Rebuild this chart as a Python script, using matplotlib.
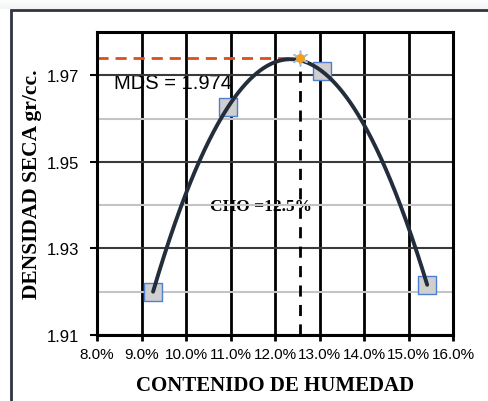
import numpy as np
import matplotlib
matplotlib.use("Agg")
import matplotlib.pyplot as plt
from matplotlib.patches import Rectangle
from matplotlib.ticker import MultipleLocator, FuncFormatter

# data
humedad = [9.26, 10.94, 13.06, 15.42]          # %
densidad = [1.920, 1.9626, 1.9709, 1.9216]     # gr/cc
cho = 12.56
mds = 1.974
mds_label = "MDS = 1.974"
cho_label = "CHO =12.5%"
x_ticks = [8, 9, 10, 11, 12, 13, 14, 15, 16]
y_ticks = [1.91, 1.93, 1.95, 1.97]

W, H = 488, 402
fig = plt.figure(figsize=(W / 100, H / 100), dpi=100)

# outer chart border (top & left visible)
fig.patches.append(Rectangle((11 / W, -0.1), 1.2, (H - 11) / H + 0.1,
                             transform=fig.transFigure, fill=False,
                             edgecolor="#2f3540", linewidth=2.0))
# faint shadow above border
for i in range(10):
    fig.patches.append(Rectangle((0, (H - 10 + i) / H), 1, 1 / H,
                                 transform=fig.transFigure, facecolor=str(0.955 + 0.0045 * i),
                                 edgecolor="none", zorder=-5))

ax = fig.add_axes([97 / W, 1 - 336 / H, (453 - 97) / W, (336 - 33) / H])
ax.set_xlim(8, 16)
ax.set_ylim(1.91, 1.98)

ax.xaxis.set_major_locator(MultipleLocator(1))
ax.set_xticks(x_ticks)
ax.xaxis.set_major_formatter(FuncFormatter(lambda v, p: f"{v:.1f}%"))
ax.set_yticks(y_ticks)
ax.yaxis.set_major_formatter(FuncFormatter(lambda v, p: f"{v:.2f}"))
ax.set_yticks([1.92, 1.94, 1.96], minor=True)

# gridlines
ax.grid(False)
for xv in x_ticks[1:-1]:
    ax.axvline(xv, color="black", linewidth=2.0, zorder=2)
for yv in y_ticks:
    ax.axhline(yv, color="#3a3a3a", linewidth=1.5, zorder=2)
for yv in [1.92, 1.94, 1.96]:
    ax.axhline(yv, color="#c4c4c4", linewidth=1.5, zorder=2)

for s in ax.spines.values():
    s.set_linewidth(2.2)
    s.set_color("black")
    s.set_zorder(5)

ax.tick_params(axis="y", which="major", direction="out", length=5, width=1.5,
               labelsize=12, pad=8, colors="black")
ax.tick_params(axis="y", which="minor", length=0)
ax.tick_params(axis="x", which="major", direction="out", length=4, width=2,
               labelsize=11, pad=5, colors="black")
for lab in ax.get_xticklabels() + ax.get_yticklabels():
    lab.set_fontfamily("Liberation Sans")

# trend curve (polynomial fit to data)
coef = np.polyfit(humedad, densidad, 3)
xs = np.linspace(humedad[0], humedad[-1], 300)
ax.plot(xs, np.polyval(coef, xs), color="#232d3b", linewidth=2.8, zorder=4,
        solid_capstyle="round")

# points
ax.scatter(humedad, densidad, marker="s", s=160, facecolor="#cfcfcf",
           edgecolor="#4f7fd0", linewidth=1.0, zorder=3)

# reference lines
ax.plot([8, cho], [mds, mds], color="#d9501a", linewidth=2.0,
        dashes=(4, 2.5), zorder=3)
ax.plot([cho, cho], [1.91, mds], color="black", linewidth=2.0,
        dashes=(4, 3), zorder=3)
ax.scatter([cho], [mds], marker=(6, 2, 0), s=110, color="#9cc0e8",
           linewidth=1.2, zorder=5)
ax.scatter([cho], [mds], marker="o", s=30, color="#f0a020", zorder=6)

# annotations
ax.text(8.38, 1.9671, mds_label, fontsize=14.5, fontfamily="Liberation Sans",
        color="black", va="baseline", ha="left", zorder=1)
ax.text(10.53, 1.9389, cho_label, fontsize=12.5, fontfamily="Liberation Serif",
        fontweight="bold", color="black", va="baseline", ha="left", zorder=1)

ax.set_xlabel("CONTENIDO DE HUMEDAD", fontsize=15, fontfamily="Liberation Serif",
              fontweight="bold", labelpad=10)
ax.set_ylabel("DENSIDAD SECA gr/cc.", fontsize=15.5, fontfamily="Liberation Serif",
              fontweight="bold", labelpad=3)

fig.savefig("out.png", dpi=100)
